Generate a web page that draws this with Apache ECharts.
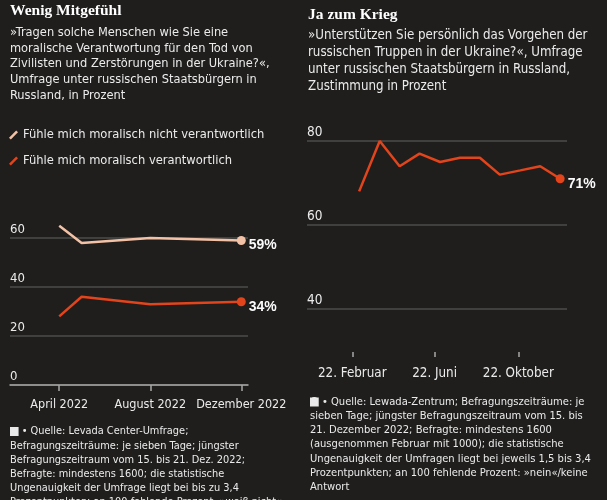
<!DOCTYPE html>
<html><head><meta charset="utf-8">
<script src="https://cdn.jsdelivr.net/npm/echarts@6/dist/echarts.min.js"></script>
<style>html,body{margin:0;padding:0;background:#1f1e1d;}#c{width:607px;height:500px;}</style>
</head><body><div id="c"></div>
<script>
// ---- data ----
const leftSeriesNames = ['Fühle mich moralisch nicht verantwortlich', 'Fühle mich moralisch verantwortlich'];
const leftDates = ['2022-04-01', '2022-05-01', '2022-08-01', '2022-12-01'];
const leftNotResponsible = [65, 58, 60, 59];
const leftResponsible = [28, 36, 33, 34];
const leftTickDates = ['2022-04-01', '2022-08-01', '2022-12-01'];
const leftTickLabels = ['April 2022', 'August 2022', 'Dezember 2022'];
const leftYTicks = [0, 20, 40, 60];

const rightDates = ['2022-03-04', '2022-04-03', '2022-05-02', '2022-05-31', '2022-06-30', '2022-07-29', '2022-08-27', '2022-09-25', '2022-10-25', '2022-11-23', '2022-12-22'];
const rightSupport = [68, 80, 74, 77, 75, 76, 76, 72, 73, 74, 71];
const rightTickDates = ['2022-02-22', '2022-06-22', '2022-10-22'];
const rightTickLabels = ['22. Februar', '22. Juni', '22. Oktober'];
const rightYTicks = [40, 60, 80];

const leftTitle = 'Wenig Mitgefühl';
const leftSub = ['»Tragen solche Menschen wie Sie eine', 'moralische Verantwortung für den Tod von', 'Zivilisten und Zerstörungen in der Ukraine?«,', 'Umfrage unter russischen Staatsbürgern in', 'Russland, in Prozent'];
const rightTitle = 'Ja zum Krieg';
const rightSub = ['»Unterstützen Sie persönlich das Vorgehen der', 'russischen Truppen in der Ukraine?«, Umfrage', 'unter russischen Staatsbürgern in Russland,', 'Zustimmung in Prozent'];
const leftNote = ['Quelle: Levada Center-Umfrage;', 'Befragungszeiträume: je sieben Tage; jüngster', 'Befragungszeitraum vom 15. bis 21. Dez. 2022;', 'Befragte: mindestens 1600; die statistische', 'Ungenauigkeit der Umfrage liegt bei bis zu 3,4', 'Prozentpunkten; an 100 fehlende Prozent: »weiß nicht«'];
const rightNote = ['Quelle: Lewada-Zentrum; Befragungszeiträume: je', 'sieben Tage; jüngster Befragungszeitraum vom 15. bis', '21. Dezember 2022; Befragte: mindestens 1600', '(ausgenommen Februar mit 1000); die statistische', 'Ungenauigkeit der Umfragen liegt bei jeweils 1,5 bis 3,4', 'Prozentpunkten; an 100 fehlende Prozent: »nein«/keine', 'Antwort'];

// ---- helpers ----
// day number since 2022-01-01
const t = s => { const p = s.split('-').map(Number); return Math.round((Date.UTC(p[0], p[1] - 1, p[2]) - Date.UTC(2022, 0, 1)) / 86400000); };
const SANS = '"DejaVu Sans Condensed", "DejaVu Sans", sans-serif';
const SERIF = '"Liberation Serif", serif';
const BG = '#1f1e1d';
const LIGHT = '#f3c2a6';
const RED = '#e2441b';
const TXT = '#ebebeb';
const GRID = '#4d4c4b';

function lineData(dates, vals) {
  return dates.map((d, i) => {
    const item = { value: [t(d), vals[i]] };
    if (i === dates.length - 1) {
      item.symbol = 'circle';
      item.symbolSize = 9;
      item.label = { show: true };
    }
    return item;
  });
}
function endLabel() {
  return { show: false, position: 'right', distance: 3, offset: [0, 5], color: '#fafafa', fontWeight: 'bold', fontSize: 14, fontFamily: '"Liberation Sans", sans-serif', formatter: p => p.value[1] + '%' };
}
function textLines(lines, x, y0, lh, size, color, font) {
  return lines.map((s, i) => ({ type: 'text', left: x, top: y0 + i * lh, style: { text: s, fill: color, font: size + 'px ' + font } }));
}
function noteLines(lines, x, y0, lh, size) {
  const els = textLines(lines, x, y0, lh, size, TXT, SANS);
  els[0].style = { text: '{logo|S}{dot| • }' + lines[0], rich: { logo: { backgroundColor: '#e8e8e8', color: BG, fontWeight: 'bold', fontSize: size - 1, fontFamily: '"Liberation Sans", sans-serif', padding: [0, 1, -1, 1], lineHeight: size }, dot: { fontSize: size, fontFamily: SANS, color: TXT } }, fill: TXT, font: size + 'px ' + SANS };
  return els;
}
function tickFormatter(dates, labels) {
  const vals = dates.map(t);
  return v => { const i = vals.indexOf(Math.round(v)); return i >= 0 ? labels[i] : ''; };
}

const chart = echarts.init(document.getElementById('c'), null, { renderer: 'canvas' });
const opt = {
  backgroundColor: BG,
  animation: false,
  legend: {
    data: leftSeriesNames, orient: 'vertical', left: 9, top: 127, padding: 0, itemGap: 10, itemWidth: 9, itemHeight: 9,
    textStyle: { color: TXT, fontSize: 12.8, fontFamily: SANS, lineHeight: 16 },
    selectedMode: false,
    icon: 'path://M8,0 L10,2 L2,10 L0,8 Z'
  },
  grid: [
    { left: 10, width: 238, top: 238, height: 147 },
    { left: 307, width: 260, top: 141, height: 168 }
  ],
  xAxis: [
    { type: 'value', gridIndex: 0, min: t('2022-01-25'), max: t('2022-12-10'),
      axisLine: { show: true, lineStyle: { color: '#a8a8a8', width: 1.5 } },
      axisTick: { show: true, customValues: leftTickDates.map(t), length: 6, lineStyle: { color: '#a8a8a8', width: 1.5 } },
      axisLabel: { customValues: leftTickDates.map(t), formatter: tickFormatter(leftTickDates, leftTickLabels), showMaxLabel: true, showMinLabel: true, hideOverlap: false, color: TXT, fontSize: 12.5, fontFamily: SANS, margin: 13 },
      splitLine: { show: false } },
    { type: 'value', gridIndex: 1, min: t('2021-12-18'), max: t('2023-01-01'), offset: 43,
      axisLine: { show: false },
      axisTick: { show: true, customValues: rightTickDates.map(t), length: 5, lineStyle: { color: '#a8a8a8', width: 1.5 } },
      axisLabel: { customValues: rightTickDates.map(t), formatter: tickFormatter(rightTickDates, rightTickLabels), showMaxLabel: true, showMinLabel: true, color: TXT, fontSize: 13.3, fontFamily: SANS, margin: 15 },
      splitLine: { show: false } }
  ],
  yAxis: [
    { type: 'value', gridIndex: 0, min: leftYTicks[0], max: leftYTicks[leftYTicks.length - 1], interval: 20,
      axisLine: { show: false }, axisTick: { show: false },
      axisLabel: { inside: true, verticalAlign: 'bottom', margin: 0, padding: [0, 0, 2, 0], color: TXT, fontSize: 13, fontFamily: SANS },
      splitLine: { show: true, lineStyle: { color: GRID, width: 1.5 } } },
    { type: 'value', gridIndex: 1, min: rightYTicks[0], max: rightYTicks[rightYTicks.length - 1], interval: 20,
      axisLine: { show: false }, axisTick: { show: false },
      axisLabel: { inside: true, verticalAlign: 'bottom', margin: 0, padding: [0, 0, 2, 0], color: TXT, fontSize: 13.5, fontFamily: SANS },
      splitLine: { show: true, lineStyle: { color: GRID, width: 1.5 } } }
  ],
  series: [
    { name: leftSeriesNames[0], type: 'line', xAxisIndex: 0, yAxisIndex: 0, clip: false, symbol: 'none', showSymbol: true,
      color: LIGHT, lineStyle: { color: LIGHT, width: 2.5 }, itemStyle: { color: LIGHT },
      label: endLabel(), data: lineData(leftDates, leftNotResponsible), z: 3 },
    { name: leftSeriesNames[1], type: 'line', xAxisIndex: 0, yAxisIndex: 0, clip: false, symbol: 'none', showSymbol: true,
      color: RED, lineStyle: { color: RED, width: 2.5 }, itemStyle: { color: RED },
      label: endLabel(), data: lineData(leftDates, leftResponsible), z: 3 },
    { name: 'Zustimmung', type: 'line', xAxisIndex: 1, yAxisIndex: 1, clip: false, symbol: 'none', showSymbol: true,
      color: RED, lineStyle: { color: RED, width: 2.5 }, itemStyle: { color: RED },
      label: endLabel(), data: lineData(rightDates, rightSupport), z: 3 }
  ],
  graphic: [].concat(
    [{ type: 'text', left: 10, top: 3, style: { text: leftTitle, fill: '#ffffff', font: 'bold 15.5px ' + SERIF } },
     { type: 'text', left: 308, top: 7, style: { text: rightTitle, fill: '#ffffff', font: 'bold 15.5px ' + SERIF } }],
    textLines(leftSub, 10, 26, 15.75, 12.7, TXT, SANS),
    textLines(rightSub, 308, 29, 17, 13.2, TXT, SANS),
    noteLines(leftNote, 10, 426, 14.2, 10.9),
    noteLines(rightNote, 310, 396.5, 14.2, 11.1)
  )
};
chart.setOption(opt);
</script></body></html>
